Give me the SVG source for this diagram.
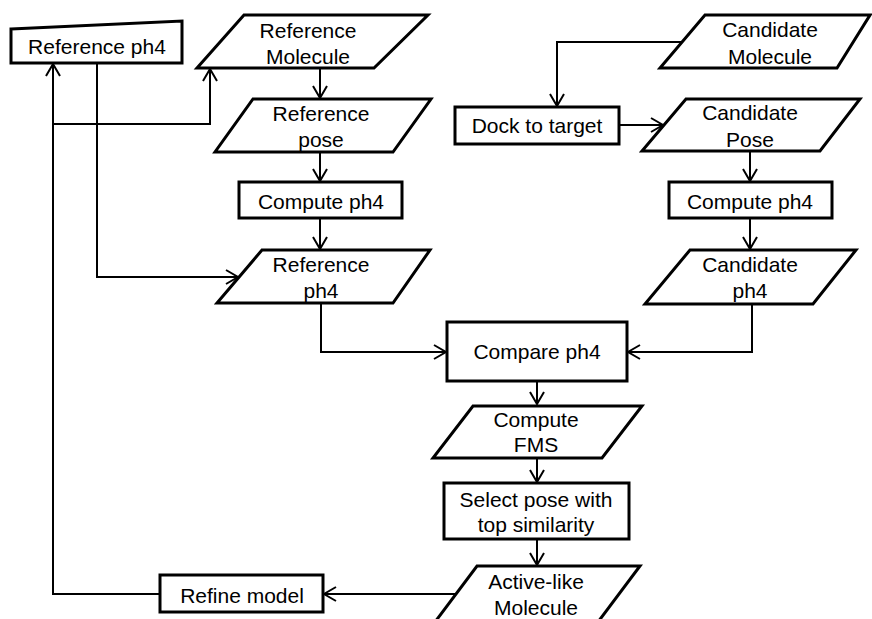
<svg xmlns="http://www.w3.org/2000/svg" width="872" height="619" viewBox="0 0 872 619">
<style>
.s{fill:#fff;stroke:#000;stroke-width:3;stroke-linejoin:miter}
.c{fill:none;stroke:#000;stroke-width:2}
.a{marker-end:url(#ah)}
text{font-family:"Liberation Sans",Arial,sans-serif;font-size:21px;fill:#000;text-anchor:middle}
</style>
<defs>
<marker id="ah" markerUnits="userSpaceOnUse" markerWidth="20" markerHeight="20" viewBox="-14 -10 16 20" refX="0" refY="0" orient="auto">
<path d="M-12,-7 L0,0 L-12,7" fill="none" stroke="#000" stroke-width="2"/>
</marker>
</defs>
<rect width="872" height="619" fill="#fff"/>
<g id="connectors">
<path class="c a" d="M320,68 V98"/>
<path class="c a" d="M320,152 V181"/>
<path class="c a" d="M320,218 V249"/>
<path class="c a" d="M97,63 V277 H238"/>
<path class="c a" d="M160,594 H53 V64"/>
<path class="c a" d="M53,124 H210 V69"/>
<path class="c a" d="M682,42 H557 V106"/>
<path class="c a" d="M619,125 H663"/>
<path class="c a" d="M750,151 V181"/>
<path class="c a" d="M750,218 V249"/>
<path class="c a" d="M321,303 V352 H446"/>
<path class="c a" d="M752,304 V352 H628"/>
<path class="c a" d="M537,381 V404"/>
<path class="c a" d="M537,458 V482"/>
<path class="c a" d="M537,539 V565"/>
<path class="c a" d="M456,594 H324"/>
</g>
<g id="ref-ph4-input">
<polygon class="s" points="11,29 182,21 182,63 11,63"/>
<text x="97" y="54">Reference ph4</text>
</g>
<g id="ref-molecule">
<polygon class="s" points="244,15 428,15 374,68 197,68"/>
<text x="308" y="38">Reference</text>
<text x="308" y="64">Molecule</text>
</g>
<g id="ref-pose">
<polygon class="s" points="253,99 431,99 393,152 215,152"/>
<text x="321" y="121">Reference</text>
<text x="321" y="147">pose</text>
</g>
<g id="compute-ph4-ref">
<rect class="s" x="239" y="182" width="163" height="36"/>
<text x="321" y="209">Compute ph4</text>
</g>
<g id="ref-ph4">
<polygon class="s" points="262,250 430,250 393,303 217,303"/>
<text x="321" y="272">Reference</text>
<text x="321" y="298">ph4</text>
</g>
<g id="cand-molecule">
<polygon class="s" points="705,15 870,15 837,68 660,68"/>
<text x="770" y="37">Candidate</text>
<text x="770" y="64">Molecule</text>
</g>
<g id="dock">
<rect class="s" x="455" y="107" width="164" height="37"/>
<text x="537" y="133">Dock to target</text>
</g>
<g id="cand-pose">
<polygon class="s" points="686,99 860,99 820,151 642,151"/>
<text x="750" y="120">Candidate</text>
<text x="750" y="147">Pose</text>
</g>
<g id="compute-ph4-cand">
<rect class="s" x="669" y="182" width="163" height="36"/>
<text x="750" y="209">Compute ph4</text>
</g>
<g id="cand-ph4">
<polygon class="s" points="690,250 856,250 813,304 645,304"/>
<text x="750" y="272">Candidate</text>
<text x="750" y="298">ph4</text>
</g>
<g id="compare">
<rect class="s" x="447" y="322" width="180" height="59"/>
<text x="537" y="359">Compare ph4</text>
</g>
<g id="compute-fms">
<polygon class="s" points="473,406 642,406 602,458 433,458"/>
<text x="536" y="427">Compute</text>
<text x="536" y="452">FMS</text>
</g>
<g id="select">
<rect class="s" x="444" y="483" width="185" height="56"/>
<text x="536" y="507">Select pose with</text>
<text x="536" y="532">top similarity</text>
</g>
<g id="active-like">
<polygon class="s" points="477,566 640,566 598,622 435,622"/>
<text x="536" y="589">Active-like</text>
<text x="536" y="615">Molecule</text>
</g>
<g id="refine">
<rect class="s" x="160" y="575" width="163" height="37"/>
<text x="242" y="603">Refine model</text>
</g>
</svg>
